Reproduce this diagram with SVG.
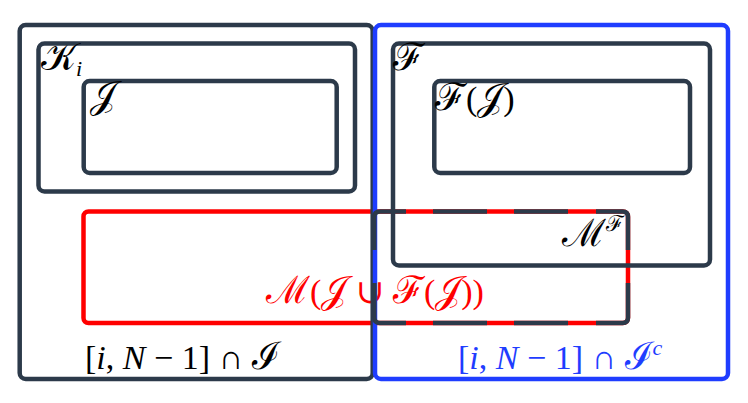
<svg xmlns="http://www.w3.org/2000/svg" width="748" height="403" viewBox="0 0 748 403">
<style>
.box{fill:none;stroke:#2c3a4a;stroke-width:4.5;stroke-linejoin:round;stroke-linecap:butt}
.blue{fill:none;stroke:#1f3dff;stroke-width:4.5}
.red{fill:none;stroke:#ff0000;stroke-width:4.5}
.t{font-family:"Liberation Serif","DejaVu Serif",serif;font-size:34px;fill:#000}
.it{font-style:italic}
.cal{font-family:"DejaVu Serif","Liberation Serif",serif;font-style:normal;font-size:38px}
.sub{font-size:22px}
</style>
<rect width="748" height="403" fill="#fff"/>
<g id="red-region">
<rect class="red" x="83.5" y="211.5" width="544.5" height="111.5" rx="5"/>
</g>
<g id="red-label">
<text class="t" x="375" y="303" text-anchor="middle" style="fill:#ff0000"><tspan class="cal">ℳ</tspan>(<tspan class="cal">𝒥</tspan> ∪ <tspan class="cal">ℱ</tspan>(<tspan class="cal">𝒥</tspan>))</text>
</g>
<g id="left-region">
<rect class="box" x="19.7" y="25" width="353" height="354" rx="6"/>
<text class="t" x="85" y="369">[<tspan class="it">i</tspan>, <tspan class="it">N</tspan> − 1] ∩ <tspan class="cal">ℐ</tspan></text>
</g>
<g id="right-region">
<rect class="blue" x="375" y="25" width="353" height="354" rx="6"/>
<text class="t" x="458" y="369" style="fill:#1f3dff">[<tspan class="it">i</tspan>, <tspan class="it">N</tspan> − 1] ∩ <tspan class="cal">ℐ</tspan><tspan class="it sub" dy="-14">c</tspan></text>
</g>
<g id="K">
<rect class="box" x="38.5" y="43.5" width="316.5" height="148" rx="6"/>
<text class="t" x="41" y="70"><tspan class="cal">𝒦</tspan><tspan class="it sub" dy="6">i</tspan></text>
</g>
<g id="J">
<rect class="box" x="83.7" y="81" width="253" height="92" rx="6"/>
<text class="t" x="90" y="108"><tspan class="cal">𝒥</tspan></text>
</g>
<g id="F">
<rect class="box" x="393" y="43.5" width="317" height="222" rx="6"/>
<text class="t" x="393" y="70"><tspan class="cal">ℱ</tspan></text>
</g>
<g id="FJ">
<rect class="box" x="434.3" y="81" width="255.7" height="92" rx="6"/>
<text class="t" x="435" y="110"><tspan class="cal">ℱ</tspan>(<tspan class="cal">𝒥</tspan>)</text>
</g>
<g id="MF">
<path class="box" d="M374.3,250 V217 Q374.3,211.5 380,211.5 H406 M433,211.5 H487 M514,211.5 H568 M596,211.5 H622.5 Q628,211.5 628,217 V250 M628,283 V317.5 Q628,323 622.5,323 H596 M568,323 H514 M487,323 H433 M406,323 H380 Q374.3,323 374.3,317.5 V283"/>
<text class="t" x="562" y="246"><tspan class="cal">ℳ</tspan><tspan class="cal sub" dy="-15">ℱ</tspan></text>
</g>
</svg>
